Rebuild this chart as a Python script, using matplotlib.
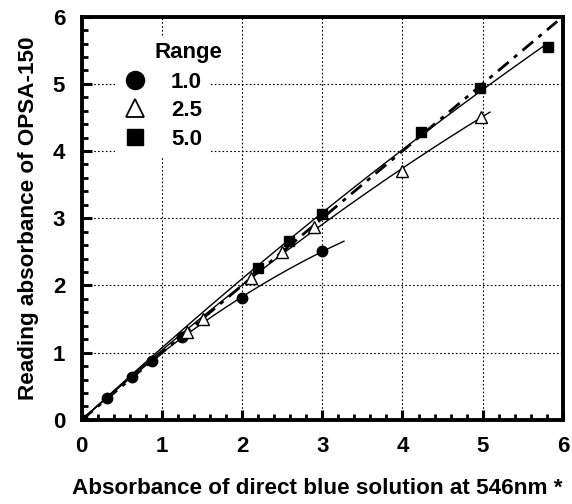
import numpy as np
import matplotlib
matplotlib.use("Agg")
import matplotlib.pyplot as plt
from matplotlib.lines import Line2D

plt.rcParams['font.family'] = ['Liberation Sans', 'DejaVu Sans']
plt.rcParams['font.weight'] = 'bold'

# Data
circle_x = [0.31, 0.62, 0.87, 1.25, 2.00, 3.00]
circle_y = [0.33, 0.63, 0.88, 1.24, 1.81, 2.51]
circle_end = 3.27

tri_x = [1.31, 1.51, 2.11, 2.50, 2.89, 3.99, 4.98]
tri_y = [1.30, 1.50, 2.11, 2.50, 2.87, 3.70, 4.50]
tri_end = 5.09

sq_x = [0.0, 2.20, 2.58, 3.00, 4.23, 4.97, 5.81]
sq_y = [0.0, 2.26, 2.66, 3.07, 4.28, 4.94, 5.55]
sq_end = 5.81

ideal_x = [0.0, 5.93]
ideal_y = [0.0, 5.93]

labels = ['1.0', '2.5', '5.0']
ticks = [0, 1, 2, 3, 4, 5, 6]


def fit_curve(x, y, xmax):
    x = np.asarray(x, float)
    y = np.asarray(y, float)
    A = np.column_stack([x, x ** 2])
    coef, *_ = np.linalg.lstsq(A, y, rcond=None)
    xs = np.linspace(0, xmax, 200)
    return xs, coef[0] * xs + coef[1] * xs ** 2


fig = plt.figure(figsize=(5.72, 5.04), dpi=100)
ax = fig.add_axes([0.143, 0.167, 0.841, 0.800])

ax.set_xlim(0, 6)
ax.set_ylim(0, 6)

# grid
ax.set_xticks(ticks)
ax.set_yticks(ticks)
ax.set_xticks(np.arange(0, 6.01, 0.2), minor=True)
ax.set_yticks(np.arange(0, 6.01, 0.2), minor=True)
ax.grid(True, which='major', color='black', linewidth=0.8, linestyle=(0, (1.5, 2.0)))
ax.set_axisbelow(True)

# fits
for xs_, ys_, end in [(circle_x, circle_y, circle_end), (tri_x, tri_y, tri_end), (sq_x, sq_y, sq_end)]:
    fx, fy = fit_curve(xs_, ys_, end)
    ax.plot(fx, fy, color='black', linewidth=1.0, zorder=3)

ax.plot(ideal_x, ideal_y, color='black', linewidth=2.0, linestyle=(0, (5, 2.5, 1.5, 2.5)), zorder=3)

ax.plot(circle_x, circle_y, linestyle='none', marker='o', markersize=7.5, color='black', zorder=4)
ax.plot(tri_x, tri_y, linestyle='none', marker='^', markersize=8, markerfacecolor='white',
        markeredgecolor='black', markeredgewidth=1.0, zorder=4)
ax.plot(sq_x, sq_y, linestyle='none', marker='s', markersize=7, color='black', zorder=4)

# spines and ticks
for s in ax.spines.values():
    s.set_linewidth(2.8)
ax.tick_params(which='major', direction='in', length=7, width=2.2, top=False, right=False,
               labelsize=16, pad=12)
ax.tick_params(which='minor', direction='in', length=4.5, width=2.0, top=False, right=False)
for lab in ax.get_xticklabels() + ax.get_yticklabels():
    lab.set_fontweight('bold')

ax.set_xlabel('Absorbance of direct blue solution at 546nm *', fontsize=16.2, fontweight='bold', labelpad=16)
ax.xaxis.set_label_coords(0.49, -0.145)
ax.set_ylabel('Reading absorbance of OPSA-150', fontsize=16.2, fontweight='bold', labelpad=10)

# legend
handles = [
    Line2D([], [], linestyle='none', marker='o', markersize=13, color='black'),
    Line2D([], [], linestyle='none', marker='^', markersize=13, markerfacecolor='white',
           markeredgecolor='black', markeredgewidth=1.3),
    Line2D([], [], linestyle='none', marker='s', markersize=12, color='black'),
]
leg = ax.legend(handles, labels, loc='upper left', bbox_to_anchor=(0.07, 0.885),
                frameon=True, framealpha=1.0, edgecolor='none', facecolor='white',
                prop={'weight': 'bold', 'size': 16}, handlelength=1.0, handletextpad=1.1,
                labelspacing=0.33, borderpad=0.4, borderaxespad=0)
leg.set_zorder(5)
ax.text(0.222, 0.912, 'Range', transform=ax.transAxes, ha='center', va='center',
        fontsize=16, fontweight='bold', zorder=6,
        bbox=dict(facecolor='white', edgecolor='none', pad=3))

fig.savefig('out.png', dpi=100)
